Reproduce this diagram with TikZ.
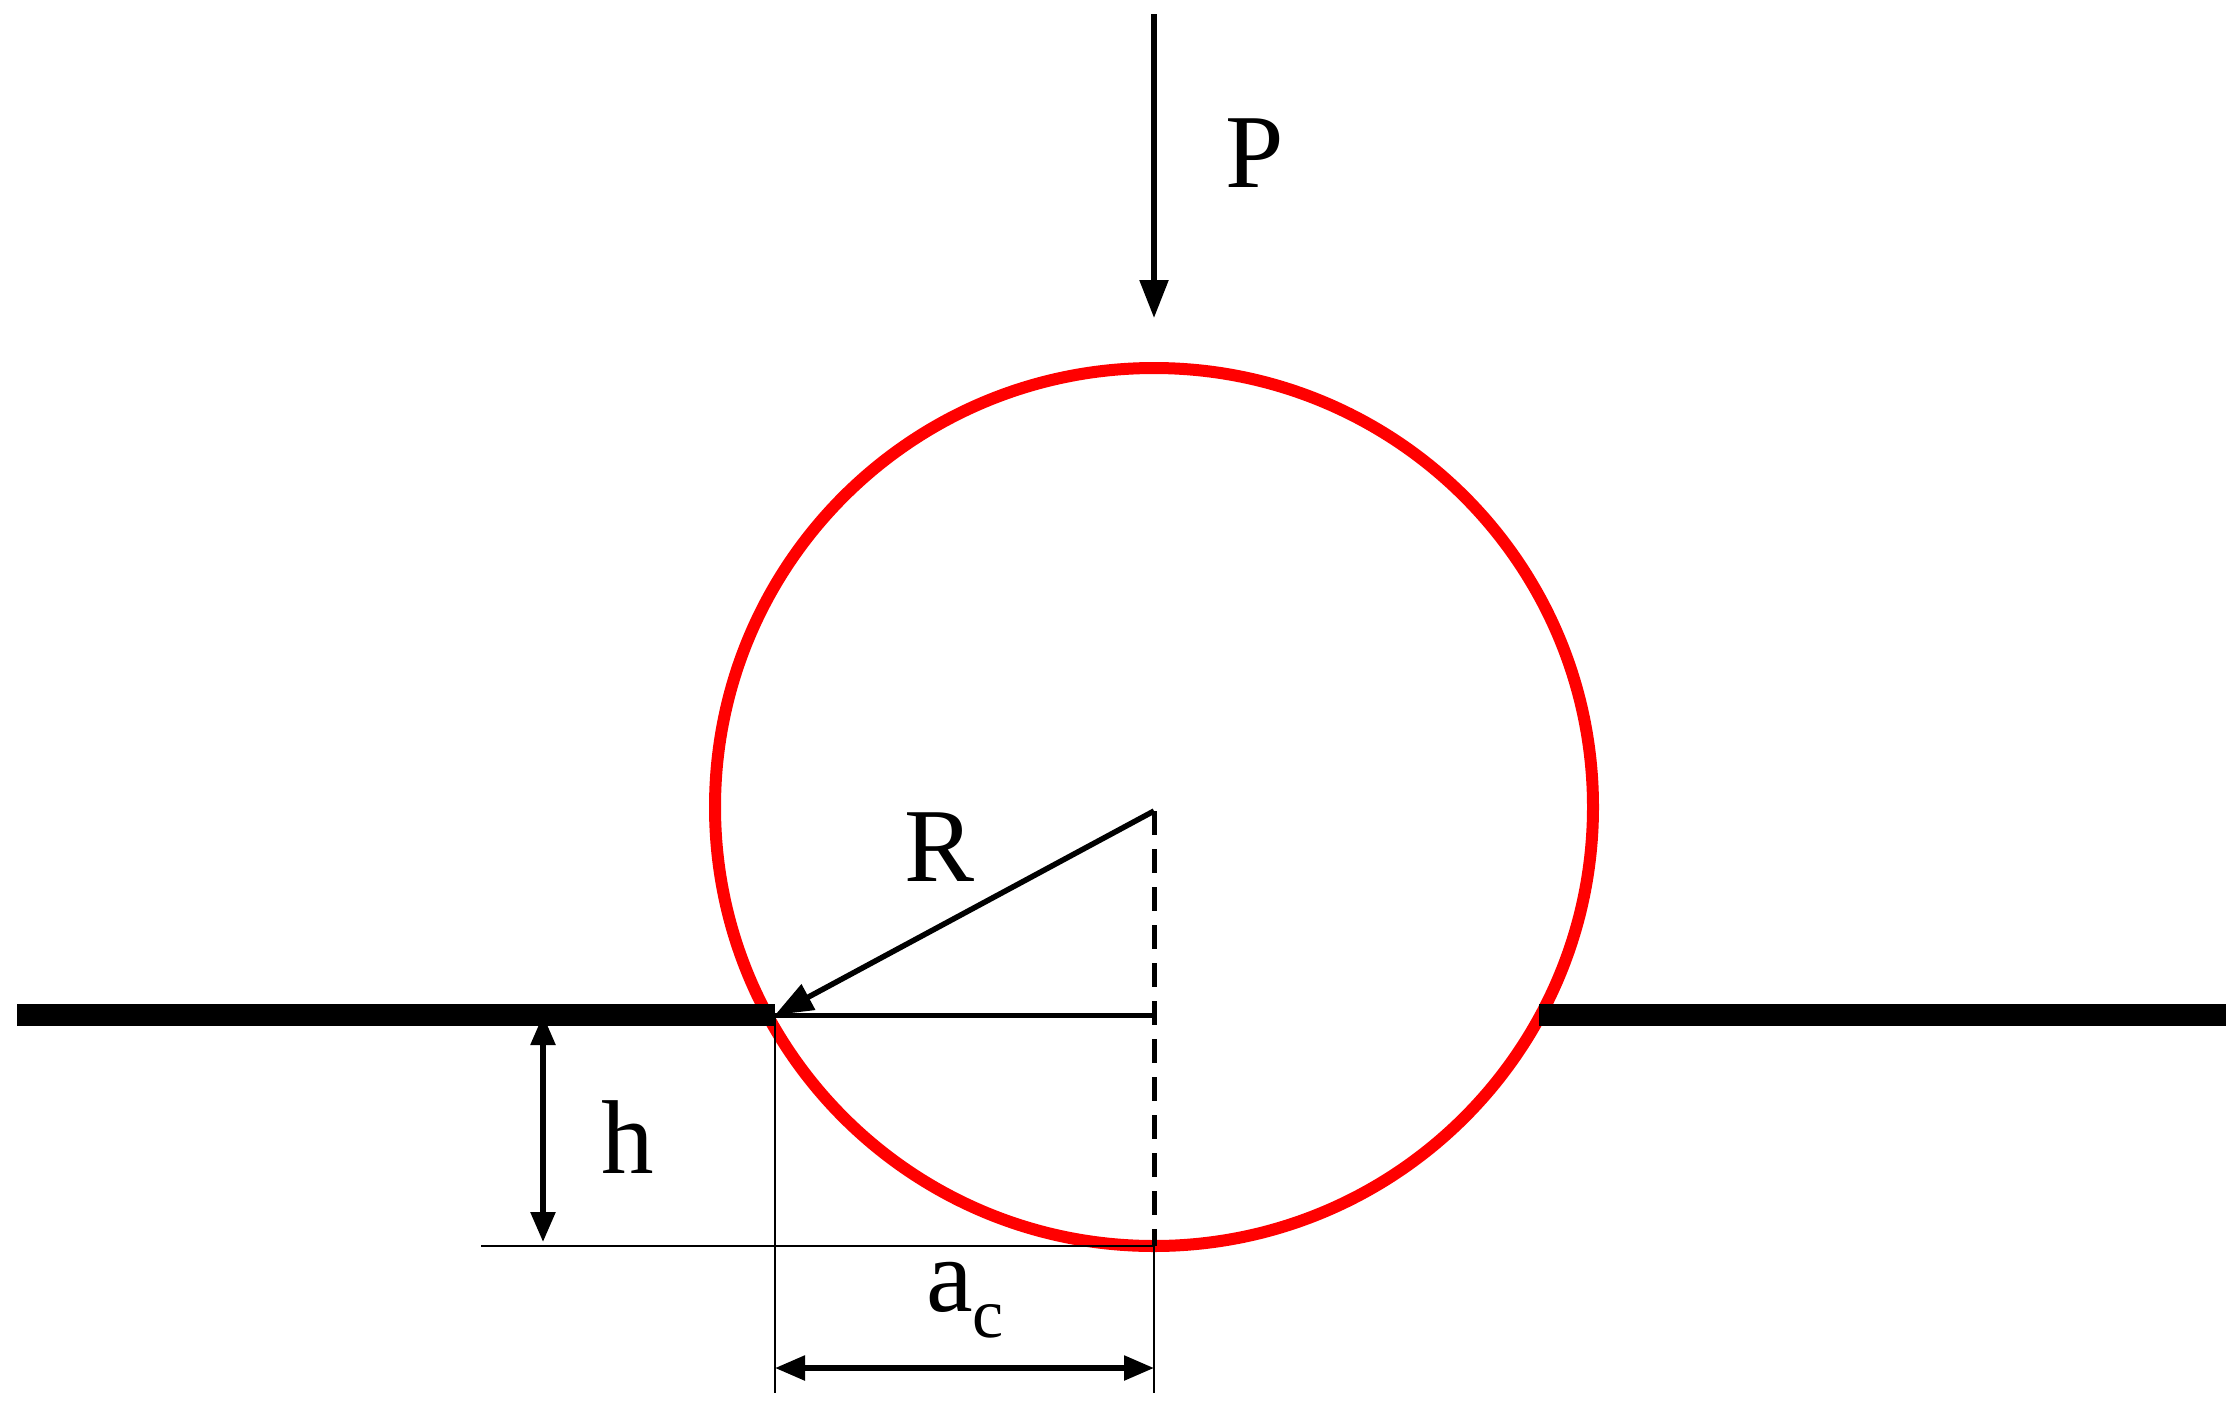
\documentclass[tikz,border=0pt]{standalone}
\usepackage{fontspec}
\setmainfont{Liberation Serif}
\usetikzlibrary{arrows.meta}
\begin{document}
\begin{tikzpicture}[x=1pt,y=-1pt,
  lbl/.style={font=\fontsize{105}{105}\selectfont,inner sep=0pt},
  thin/.style={line width=2pt},
  arr/.style={line width=5.5pt,-{Triangle[length=38pt,width=28pt]}},
  darr/.style={line width=5.5pt,{Triangle[length=30pt,width=24pt]}-{Triangle[length=30pt,width=24pt]}}]
\useasboundingbox (0,0) rectangle (2240,1411);
\coordinate (O) at (1154,807);
\coordinate (L) at (775,1015);
\coordinate (Lend) at (17,1015);
\coordinate (Rbeg) at (1539,1015);
\coordinate (Rend) at (2226,1015);
\coordinate (C) at (1154,1015);
\coordinate (B) at (1154,1246);
\draw[red,line width=12pt] (O) circle[radius=439];
\draw[line width=22pt] (Lend) -- (L);
\draw[line width=22pt] (Rbeg) -- (Rend);
\coordinate (Ptop) at (1154,14);
\coordinate (Pbot) at (1154,318);
\draw[arr] (Ptop) -- (Pbot);
\node[lbl] (P) at (1255,153) {P};
\draw[arr] (1154,811) -- (L);
\node[lbl] (R) at (940,847) {R};
\draw[line width=5pt] (L) -- (C);
\draw[line width=5pt,dash pattern=on 24pt off 14pt] (1154,811) -- (B);
\coordinate (HL) at (481,1246);
\draw[thin] (HL) -- (B);
\coordinate (h1) at (543,1015);
\coordinate (h2) at (543,1242);
\draw[darr] (h1) -- (h2);
\node[lbl] (h) at (628,1137) {h};
\coordinate (E1) at (775,1393);
\coordinate (E2) at (1154,1393);
\draw[thin] (L) -- (E1);
\draw[thin] (B) -- (E2);
\draw[darr] (775,1368) -- (1154,1368);
\node[lbl] (ac) at (965,1300) {a\raisebox{-0.25em}{\fontsize{70}{70}\selectfont c}};
\end{tikzpicture}
\end{document}
